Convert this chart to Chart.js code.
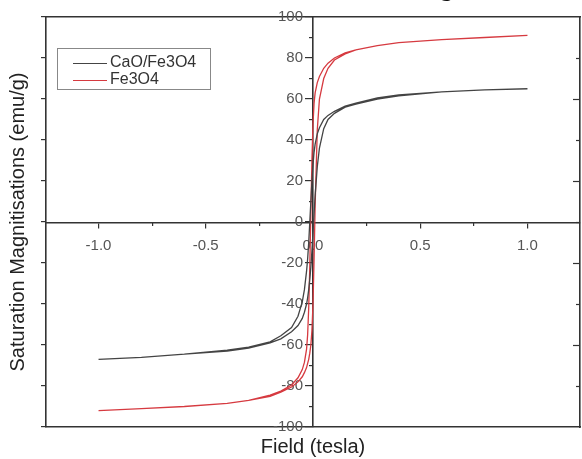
<!DOCTYPE html>
<html>
<head>
<meta charset="utf-8">
<script src="https://cdn.jsdelivr.net/npm/chart.js@4.4.0/dist/chart.umd.min.js"></script>
<style>
  html, body { margin: 0; padding: 0; background: #fff; }
  #wrap { position: relative; width: 582px; height: 459px; overflow: hidden; }
  #cut { position: absolute; left: 440px; top: -25px; font: 26px/26px "Liberation Serif", serif; color: #111; white-space: nowrap; }
</style>
</head>
<body>
<div id="wrap">
  <canvas id="chart" width="582" height="459"></canvas>
  <div id="cut">g [12]</div>
</div>
<script>
// field (tesla) of each branch of the loop
const fieldDown = [1.0, 0.8, 0.6, 0.4, 0.3, 0.2, 0.15, 0.1, 0.07, 0.05, 0.03, 0.02, 0.01, 0.005, 0, -0.005, -0.01, -0.015, -0.02, -0.025, -0.03, -0.04, -0.05, -0.07, -0.1, -0.15, -0.2, -0.3, -0.4, -0.6, -0.8, -1.0];
const fieldUp = [-1.0, -0.8, -0.6, -0.4, -0.3, -0.2, -0.15, -0.1, -0.07, -0.05, -0.04, -0.03, -0.025, -0.02, -0.015, -0.01, -0.005, 0, 0.005, 0.01, 0.02, 0.03, 0.05, 0.07, 0.1, 0.15, 0.2, 0.3, 0.4, 0.6, 0.8, 1.0];

// magnetisation (emu/g)
const caoDown = [65, 64.5, 63.5, 62, 60.5, 58, 56.5, 54, 52, 50, 46, 43, 38, 34, 28, 20, 10, 0, -10, -18, -24, -33, -39, -46, -51.5, -55.5, -58.5, -61, -62.5, -64.5, -66, -67];
const caoUp = [-67, -66, -64.5, -63, -61.5, -59, -57, -53.5, -50.5, -47, -44, -40, -37, -33, -28, -22, -14, -5, 4, 13, 27, 36, 45.5, 50, 53, 56, 57.5, 60, 61.5, 63.5, 64.5, 65];
const feDown = [91, 90, 89, 87.5, 86, 84, 82.5, 80, 77.5, 75, 71, 68, 63, 58, 48, 30, 5, -22, -42, -55, -62, -68.5, -72, -76, -79.5, -82.5, -84.5, -87, -88.5, -90, -91, -92];
const feUp = [-92, -91, -90, -88.5, -87, -85, -83, -80.5, -78, -75.5, -73.5, -71, -69, -67, -64, -60, -53, -40, -18, 8, 45, 60, 70, 75, 79, 82, 84, 86, 87.5, 89, 90, 91];

const fieldTicks = [-1.0, -0.5, 0.0, 0.5, 1.0];
const fieldTickLabels = ['-1.0', '-0.5', '0.0', '0.5', '1.0'];
const fieldMinorTicks = [-0.75, -0.25, 0.25, 0.75];
const magTicks = [-100, -80, -60, -40, -20, 0, 20, 40, 60, 80, 100];
const magMinorTicks = [-90, -70, -50, -30, -10, 10, 30, 50, 70, 90];

const xMin = -1.245, xMax = 1.245;
const axisColor = '#333';
const labelFont = { family: "'Liberation Sans', Arial, sans-serif", size: 15 };
const titleFont = { family: "'Liberation Sans', Arial, sans-serif", size: 20 };

function loop(down, up) {
  const pts = fieldDown.map((h, i) => ({ x: h, y: down[i] }));
  return pts.concat(fieldUp.map((h, i) => ({ x: h, y: up[i] })));
}

function setTicks(values) {
  return s => { s.ticks = values.map(v => ({ value: v })); };
}

// plain edge of the frame
function edge(position, min, max, size) {
  return {
    type: 'linear', position: position, min: min, max: max,
    ticks: { display: false },
    grid: { display: false, drawTicks: false },
    border: { display: true, color: axisColor, width: 1.6 },
    afterFit: s => { if (s.isHorizontal()) s.height = size; else s.width = size; }
  };
}

// inward ticks on the right edge of the frame
const rightTicks = {
  id: 'rightTicks',
  beforeDatasetsDraw(chart) {
    const { ctx, chartArea, scales } = chart;
    ctx.save();
    ctx.strokeStyle = axisColor;
    ctx.lineWidth = 1.2;
    magTicks.slice(1, -1).forEach((v, i) => {
      const y = Math.round(scales.y.getPixelForValue(v)) + 0.5;
      const len = i % 2 === 0 ? 4 : 7;
      ctx.beginPath();
      ctx.moveTo(chartArea.right, y);
      ctx.lineTo(chartArea.right - len, y);
      ctx.stroke();
    });
    ctx.restore();
  }
};

// boxed legend at top left of the plot
const boxLegend = {
  id: 'boxLegend',
  afterDatasetsDraw(chart) {
    const ctx = chart.ctx;
    ctx.save();
    ctx.fillStyle = '#fff';
    ctx.fillRect(57, 48, 153, 41);
    ctx.strokeStyle = '#888';
    ctx.lineWidth = 1;
    ctx.strokeRect(57.5, 48.5, 153, 41);
    ctx.font = "16px 'Liberation Sans', Arial, sans-serif";
    ctx.textBaseline = 'middle';
    chart.data.datasets.forEach((ds, i) => {
      const y = 63 + i * 17;
      ctx.strokeStyle = ds.borderColor;
      ctx.lineWidth = 1.2;
      ctx.beginPath();
      ctx.moveTo(73, y + 0.5);
      ctx.lineTo(107, y + 0.5);
      ctx.stroke();
      ctx.fillStyle = '#333';
      ctx.fillText(ds.label, 110, y);
    });
    ctx.restore();
  }
};

new Chart(document.getElementById('chart'), {
  type: 'line',
  data: {
    datasets: [{
      label: 'CaO/Fe3O4',
      data: loop(caoDown, caoUp),
      borderColor: '#444',
      borderWidth: 1.3,
      pointRadius: 0,
      fill: false
    }, {
      label: 'Fe3O4',
      data: loop(feDown, feUp),
      borderColor: '#d63a40',
      borderWidth: 1.3,
      pointRadius: 0,
      fill: false
    }]
  },
  options: {
    responsive: false,
    animation: false,
    devicePixelRatio: 1,
    layout: { padding: 0 },
    plugins: { legend: { display: false }, tooltip: { enabled: false } },
    scales: {
      x: Object.assign(edge('bottom', xMin, xMax, 32), {
        title: { display: true, text: 'Field (tesla)', color: '#222', font: titleFont, padding: { top: 0, bottom: 0 } }
      }),
      x2: edge('top', xMin, xMax, 17),
      y: {
        type: 'linear', position: 'left', min: -100, max: 100,
        afterBuildTicks: setTicks(magTicks),
        ticks: { display: false },
        grid: { drawOnChartArea: false, drawTicks: true, tickLength: 5, color: axisColor, lineWidth: 1.2 },
        border: { display: true, color: axisColor, width: 1.6 },
        title: { display: true, text: 'Saturation Magnitisations (emu/g)', color: '#222', font: titleFont, padding: { top: 6, bottom: 0 } },
        afterFit: s => { s.width = 46; }
      },
      y2: edge('right', -100, 100, 2),
      xc: {
        type: 'linear', position: 'center', min: xMin, max: xMax,
        afterBuildTicks: setTicks(fieldTicks),
        ticks: { callback: (v, i) => fieldTickLabels[i], color: '#555', font: labelFont, padding: 10, maxRotation: 0, autoSkip: false },
        grid: { drawOnChartArea: false, tickLength: 5, color: axisColor, lineWidth: 1.2 },
        border: { display: true, color: axisColor, width: 1.6 }
      },
      xm: {
        type: 'linear', position: 'center', min: xMin, max: xMax,
        afterBuildTicks: setTicks(fieldMinorTicks),
        ticks: { display: false },
        grid: { drawOnChartArea: false, tickLength: 3, color: axisColor, lineWidth: 1.2 },
        border: { display: false }
      },
      yc: {
        type: 'linear', position: 'center', min: -100, max: 100,
        afterBuildTicks: setTicks(magTicks),
        ticks: { color: '#555', font: labelFont, padding: 3, autoSkip: false },
        grid: { drawOnChartArea: false, tickLength: 7, color: axisColor, lineWidth: 1.2 },
        border: { display: true, color: axisColor, width: 1.6 }
      },
      ym: {
        type: 'linear', position: 'center', min: -100, max: 100,
        afterBuildTicks: setTicks(magMinorTicks),
        ticks: { display: false },
        grid: { drawOnChartArea: false, tickLength: 4, color: axisColor, lineWidth: 1.2 },
        border: { display: false }
      }
    }
  },
  plugins: [rightTicks, boxLegend]
});
</script>
</body>
</html>
